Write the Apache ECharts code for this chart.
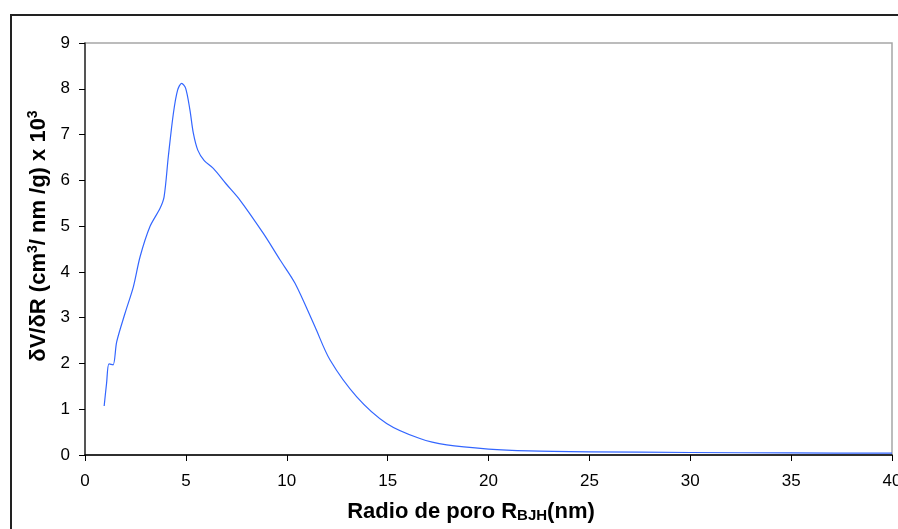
<!DOCTYPE html>
<html>
<head>
<meta charset="utf-8">
<script src="https://cdn.jsdelivr.net/npm/echarts@6/dist/echarts.min.js"></script>
<style>html,body{margin:0;padding:0;background:#fff;}#c{width:898px;height:529px;}</style>
</head>
<body>
<div id="c"></div>
<script>
const radius = [0.95,1.07,1.19,1.39,1.57,1.98,2.40,2.73,3.22,3.72,3.92,4.13,4.38,4.59,4.79,4.99,5.20,5.37,5.59,5.91,6.36,7.0,7.68,8.84,9.67,10.41,11.4,12.14,13.47,14.95,16.6,17.93,20,22,25,30,35,40];
const dvdr   = [1.07,1.57,1.99,1.97,2.47,3.09,3.68,4.33,4.99,5.39,5.64,6.52,7.46,7.97,8.12,8.01,7.54,7.03,6.66,6.43,6.26,5.92,5.57,4.84,4.26,3.75,2.80,2.08,1.27,0.69,0.36,0.22,0.13,0.09,0.07,0.055,0.045,0.04];
const xTicks = [0,40,5];
const yTicks = [0,9,1];
const xTitle = 'Radio de poro R';
const xSub = 'BJH';
const xTail = '(nm)';

const chart = echarts.init(document.getElementById('c'), null, {renderer:'canvas'});
const font = 'Liberation Sans, Arial, sans-serif';
chart.setOption({
  backgroundColor:'#fff',
  animation:false,
  grid:{left:85,right:6,top:43,bottom:74,show:true,borderColor:'#a6a6a6',borderWidth:1.5,backgroundColor:'transparent',
        outerBoundsMode:'none',containLabel:false},
  xAxis:{type:'value',min:xTicks[0],max:xTicks[1],interval:xTicks[2],
    axisLine:{show:true,onZero:false,lineStyle:{color:'#000',width:1.5}},
    axisTick:{show:true,length:6,lineStyle:{color:'#000'}},
    axisLabel:{color:'#000',fontSize:17,fontFamily:font,margin:18,hideOverlap:false},
    splitLine:{show:false}},
  yAxis:{type:'value',min:yTicks[0],max:yTicks[1],interval:yTicks[2],
    axisLine:{show:true,onZero:false,lineStyle:{color:'#333',width:1.5}},
    axisTick:{show:true,length:6,lineStyle:{color:'#000'}},
    axisLabel:{color:'#000',fontSize:17,fontFamily:font,margin:15},
    splitLine:{show:false}},
  series:[{type:'line',data:radius.map((r,i)=>[r,dvdr[i]]),showSymbol:false,smooth:0.3,
    lineStyle:{color:'#3366ff',width:1.2}}],
  graphic:[
    {type:'rect',shape:{x:11,y:15,width:1000,height:600},style:{fill:'none',stroke:'#222',lineWidth:2},silent:true,z:-1},
    {type:'text',x:471,y:511,style:{
      text:'{b|'+xTitle+'}{s|'+xSub+'}{b|'+xTail+'}',
      align:'center',verticalAlign:'middle',
      rich:{b:{fontSize:22,fontWeight:'bold',fontFamily:font,fill:'#000',verticalAlign:'bottom',lineHeight:24},
            s:{fontSize:15,fontWeight:'bold',fontFamily:font,fill:'#000',verticalAlign:'bottom',lineHeight:19}}}},
    {type:'text',x:38,y:236,rotation:Math.PI/2,style:{
      text:'{b|δV/δR (cm}{p|3}{b|/ nm /g) x 10}{p|3}',
      align:'center',verticalAlign:'middle',
      rich:{b:{fontSize:22,fontWeight:'bold',fontFamily:font,fill:'#000',verticalAlign:'bottom',lineHeight:24},
            p:{fontSize:14,fontWeight:'bold',fontFamily:font,fill:'#000',verticalAlign:'top',lineHeight:24}}}}
  ]
});
</script>
</body>
</html>
